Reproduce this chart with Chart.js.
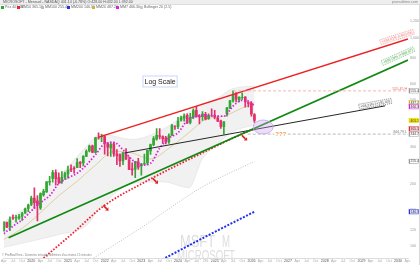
<!DOCTYPE html>
<html>
<head>
<meta charset="utf-8">
<script src="https://cdn.jsdelivr.net/npm/chart.js@4.4.1/dist/chart.umd.min.js"></script>
<style>
  html, body { margin: 0; padding: 0; background: #fff; }
  #wrap { position: relative; width: 420px; height: 265px; overflow: hidden; font-family: "Liberation Sans", Arial, sans-serif; }
  #c { position: absolute; left: 0; top: 0; }
  .bar { position: absolute; left: 0; top: 0; width: 420px; height: 4px; background: #eeeeee; border-bottom: 1px solid #dddddd; }
  .t { position: absolute; white-space: nowrap; font-size: 3.6px; line-height: 4px; color: #666; }
  .sq { display: inline-block; width: 3px; height: 3px; margin-right: 1px; vertical-align: -0.5px; }
  .edge { position: absolute; left: 419px; top: 5px; width: 1px; height: 260px; background: #d8d8d8; }
</style>
</head>
<body>
<div id="wrap">
  <canvas id="c" width="420" height="265"></canvas>
  <div class="bar"></div>
  <div class="t" style="left:3px;top:0px;color:#555">MICROSOFT - Mensuel - NASDAQ 401.14 (-6.78%) O:428.00 H:432.00 L:392.00</div>
  <div class="t" style="left:392px;top:0px;color:#888">prorealtime.com</div>
  <div class="t" style="left:1px;top:5px"><span class="sq" style="background:#34a634"></span>Prix 401.14</div>
  <div class="t" style="left:17px;top:5px"><span class="sq" style="background:#ee2233"></span>MM50 365.10</div>
  <div class="t" style="left:41px;top:5px"><span class="sq" style="background:#bbbbbb"></span>MM100 255.40</div>
  <div class="t" style="left:67px;top:5px"><span class="sq" style="background:#2233ee"></span>MM200 146.50</div>
  <div class="t" style="left:92px;top:5px"><span class="sq" style="background:#c8b440"></span>MM20 487.20</div>
  <div class="t" style="left:116px;top:5px"><span class="sq" style="background:#dd22dd"></span>MM7 466.30</div>
  <div class="t" style="left:140px;top:5px"><span class="sq" style="background:#cccccc"></span>Bollinger 20 (2.5)</div>
  <div class="t" style="left:2px;top:253px;font-size:3px;color:#888">© ProRealTime - Données intraday différées d'au moins 15 minutes</div>
  <div class="edge"></div>
</div>
<script>
// monthly candles, first bar = April 2019
const firstMonth = 2019.25;
const opens = [
  119, 130.5, 123.9, 136.6, 137, 136.6, 139.7, 144.3, 151.8,
  158.8, 170.4, 165.3, 153, 176.3, 182.5, 203.1, 211.5, 225.5, 213.5, 204.3, 214.5,
  222.5, 235.1, 235.9, 238.5, 253.4, 251.2, 269.6, 286.4, 302.9, 282.1, 331.4, 335.1,
  335.4, 310.4, 296.4, 309.4, 277.7, 275.2, 256.4, 277.8, 258.9, 235.4, 234.6, 253.9,
  243.1, 248, 250.8, 286.5, 307, 325.9, 339.2, 335.2, 331.3, 316.3, 339.8, 376.8,
  373.9, 401.8, 411.3, 424, 392.6, 415.5, 448.7, 420.8, 417.9, 428.5, 409, 421.6,
  425.5, 411.6, 398.8, 374.7, 431.1, 457.1, 496.5, 535, 504, 514.8, 519, 488,
  484, 428
];
const highs = [
  131.4, 130.7, 138.4, 141.7, 140.9, 142.4, 145.7, 152.5, 159.6,
  174.1, 190.7, 175, 180.4, 187.5, 204.4, 216.4, 231.2, 232.9, 225.2, 228.1, 227.2,
  242.6, 246.1, 241.1, 263.2, 254.4, 271.7, 290.2, 305.8, 305.3, 332, 349.7, 344.3,
  338, 315.1, 316, 315.1, 290.9, 277.7, 282, 294.2, 267.5, 251, 255.3, 263.9,
  249.8, 276.8, 289.3, 308.9, 335.9, 366.8, 366.8, 338.5, 336.2, 346.2, 384.3, 378.2,
  415.3, 420.8, 430.8, 430.8, 433.6, 456.2, 468.4, 427.5, 441.9, 438.5, 431.4, 456.2,
  448.4, 420.3, 402.2, 396, 463, 500.8, 555.5, 545, 520, 542, 521, 494,
  491, 432
];
const lows = [
  118.1, 123, 119, 134.7, 130.8, 134.5, 133.2, 144, 146.7,
  156.5, 152, 132.5, 150.4, 173.8, 181.4, 196.5, 203.1, 196.3, 199.6, 200.1, 209.1,
  211.9, 227.9, 224.3, 238.1, 238.1, 243, 269.6, 283.7, 281.3, 280.3, 326.4, 317.3,
  276.1, 271.5, 270, 270, 246.4, 241.5, 245.9, 260.7, 232.7, 219.1, 213.4, 233.9,
  219.4, 245.5, 245.6, 275.4, 303.4, 322.6, 327, 311.6, 309.5, 311.2, 339.7, 362.9,
  366.5, 397.2, 397.2, 388, 385.6, 408.9, 415.4, 385.6, 401.1, 403.6, 405.6, 420.7,
  408.1, 396.5, 367.2, 344.8, 420.8, 456.9, 490, 492, 492, 506, 464, 464.9,
  420, 392
];
const closes = [
  130.6, 123.7, 134, 136.3, 137.9, 139, 143.4, 151.4, 157.7,
  170.2, 162, 157.7, 179.2, 183.3, 203.5, 205, 225.5, 210.3, 202.5, 214.1, 222.4,
  232, 232.4, 235.8, 252.2, 249.7, 270.9, 284.9, 301.9, 281.9, 331.6, 330.6, 336.3,
  311, 298.8, 308.3, 277.5, 271.9, 256.8, 280.7, 261.5, 232.9, 232.1, 255.1, 239.8,
  247.8, 249.4, 288.3, 307.3, 328.4, 340.5, 335.9, 327.8, 315.8, 338.1, 378.9, 376,
  397.6, 413.6, 420.7, 389.3, 415.1, 447, 418.4, 417.1, 430.3, 406.4, 423.5, 421.5,
  415.1, 397, 375.4, 395.3, 460.4, 497.4, 533.5, 506.7, 518, 517.8, 492, 483.6,
  430.3, 401.1
];

// moving averages (year, price)
const maFastX = [2019.25, 2019.5, 2019.75, 2020, 2020.25, 2020.5, 2020.75, 2021, 2021.25, 2021.5, 2021.75, 2022, 2022.25, 2022.5, 2022.75, 2023, 2023.25, 2023.5, 2023.75, 2024, 2024.25, 2024.5, 2024.75, 2025, 2025.25, 2025.5, 2025.75, 2026, 2026.08];
const maFastY = [115, 125, 134, 148, 162, 175, 200, 213, 224, 245, 275, 310, 315, 290, 260, 245, 250, 295, 330, 350, 400, 420, 425, 420, 420, 470, 500, 490, 466];
const maMidX = [2019.25, 2019.75, 2020.25, 2020.75, 2021.25, 2021.75, 2022.25, 2022.75, 2023.25, 2023.75, 2024.25, 2024.75, 2025.25, 2025.75, 2026.08];
const maMidY = [108, 122, 145, 175, 205, 245, 285, 280, 262, 295, 345, 405, 420, 460, 487];
const ma50X = [2020.2, 2021.14, 2021.95, 2023.11, 2024.73, 2026, 2026.08];
const ma50Y = [84, 116, 155, 204, 284, 361, 365];
const ma100X = [2021.7, 2023.03, 2024.65, 2026.08];
const ma100Y = [88, 124, 192, 255];
const ma200X = [2023.57, 2024.78, 2026.08];
const ma200Y = [86.5, 112, 146.5];

// band around the candles
const bandX = [2019.25, 2020, 2020.75, 2021.5, 2021.9, 2022.75, 2023.6, 2024.3, 2024.65, 2025.05, 2025.5, 2026.08];
const bandUpper = [131, 160, 215, 300, 345, 325, 365, 440, 480, 510, 570, 585];
const bandLower = [99, 106, 114, 126, 155, 200, 204, 191, 260, 307, 355, 382];

// trendlines
const redLineX = [2021.84, 2030.27];
const redLineY = [334, 984];
const greenLineX = [2019.38, 2030.27];
const greenLineY = [110, 780];
const blackLineX = [2022.54, 2029.65];
const blackLineY = [280, 471];
const trendLabels = ['+194.61% (+650.03)', '+609.09% (+669.97)', '+68.21% (+191.02)'];

// levels and notes
const highLevel = 555.45;
const highFrom = 2025.5;
const lowLevel = 344.79;
const lowFrom = 2025.9;
const arrowX = [2022.03, 2023.38, 2025.81];
const arrowY = [153, 206, 331];
const noteX = 2023.51, noteY = 616, noteText = 'Log Scale';
const circleX = 2026.32, circleY = 373;
const questionX = 2026.8, questionText = '???';

// right axis value boxes
const markValues = [555.45, 487.2, 466.3, 401.14, 365.1, 344.79, 255.4, 146.5];
const markColors = ['#999999', '#c8b440', '#dd22dd', '#e8d800', '#ee2233', '#999999', '#999999', '#2233ee'];
const markFills = ['#ffffff', '#fbf7dc', '#fbe0fb', '#f0e000', '#fbd0d8', '#ffffff', '#ffffff', '#dde0ff'];

const xMin = 2019.24, xMax = 2030.27;
const yMin = 88, yMax = 1325;
const yTicks = [100, 120, 150, 200, 250, 300, 400, 500, 600, 800, 1000, 1200];
const quarterNames = ['', 'Apr', 'Jul', 'Oct'];

const upColor = '#34a634';
const downColor = '#e3306a';

const candleX = opens.map((o, i) => firstMonth + i / 12);
const candleColors = opens.map((o, i) => (closes[i] >= o ? upColor : downColor));
const wickData = candleX.map((x, i) => ({ x: x, y: [lows[i], highs[i]] }));
const bodyData = candleX.map((x, i) => {
  let a = opens[i], b = closes[i];
  if (Math.abs(a - b) < 0.5) b = a + 0.8;
  return { x: x, y: [Math.min(a, b), Math.max(a, b)] };
});

function pts(xs, ys) {
  return xs.map((x, i) => ({ x: x, y: ys[i] }));
}

function lineSet(xs, ys, color, width, dash, order, smooth) {
  return {
    type: 'line',
    data: pts(xs, ys),
    borderColor: color,
    borderWidth: width,
    borderDash: dash,
    pointRadius: 0,
    fill: false,
    order: order,
    cubicInterpolationMode: smooth ? 'monotone' : 'default',
  };
}

function fitText(ctx, text, x, y, w, size) {
  ctx.font = size + 'px "Liberation Sans"';
  const m = ctx.measureText(text).width;
  ctx.save();
  ctx.translate(x, y);
  ctx.scale(w / m, 1);
  ctx.fillText(text, 0, 0);
  ctx.restore();
}

function slantLabel(ctx, x, y, angle, text, color, bg) {
  ctx.save();
  ctx.translate(x, y);
  ctx.rotate(angle);
  ctx.font = '3.5px "Liberation Sans"';
  const w = ctx.measureText(text).width + 3;
  ctx.fillStyle = bg;
  ctx.fillRect(-w / 2, -2.5, w, 5);
  ctx.setLineDash([1, 1]);
  ctx.strokeStyle = color;
  ctx.lineWidth = 0.6;
  ctx.strokeRect(-w / 2, -2.5, w, 5);
  ctx.fillStyle = color;
  ctx.textAlign = 'center';
  ctx.textBaseline = 'middle';
  ctx.fillText(text, 0, 0.2);
  ctx.restore();
}

const overlay = {
  id: 'overlay',
  beforeDatasetsDraw(chart) {
    const ctx = chart.ctx;
    ctx.save();
    ctx.fillStyle = '#dedede';
    fitText(ctx, 'MSFT', 180, 247, 35, 16);
    fitText(ctx, 'M', 222, 247, 8, 16);
    fitText(ctx, 'MICROSOFT', 177, 260, 58, 14);
    ctx.restore();
  },
  afterDatasetsDraw(chart) {
    const ctx = chart.ctx;
    const a = chart.chartArea;
    const xs = chart.scales.x, ys = chart.scales.y;
    ctx.save();

    // high / low levels
    let yh = ys.getPixelForValue(highLevel);
    ctx.setLineDash([3, 2]);
    ctx.strokeStyle = '#f4a4a4';
    ctx.lineWidth = 0.8;
    ctx.beginPath();
    ctx.moveTo(xs.getPixelForValue(highFrom), yh);
    ctx.lineTo(a.right, yh);
    ctx.stroke();
    let yl = ys.getPixelForValue(lowLevel);
    ctx.strokeStyle = '#a8a8a8';
    ctx.beginPath();
    ctx.moveTo(xs.getPixelForValue(lowFrom), yl);
    ctx.lineTo(a.right, yl);
    ctx.stroke();
    ctx.setLineDash([]);
    ctx.font = '3.6px "Liberation Sans"';
    ctx.textAlign = 'right';
    ctx.textBaseline = 'bottom';
    ctx.fillStyle = '#e66';
    ctx.fillText(highLevel.toFixed(2) + ' H', a.right - 1, yh - 0.5);
    ctx.fillStyle = '#777';
    ctx.fillText(lowLevel.toFixed(2) + ' L', a.right - 1, yl - 0.5);

    // ??? on the low level
    ctx.font = 'bold 6px "Liberation Sans"';
    ctx.textAlign = 'center';
    ctx.textBaseline = 'middle';
    const qx = xs.getPixelForValue(questionX);
    const qw = ctx.measureText(questionText).width + 2;
    ctx.fillStyle = '#fff';
    ctx.fillRect(qx - qw / 2, yl - 3, qw, 6);
    ctx.fillStyle = '#f5a050';
    ctx.fillText(questionText, qx, yl + 0.5);

    // circle
    const cx = xs.getPixelForValue(circleX), cy = ys.getPixelForValue(circleY);
    ctx.beginPath();
    ctx.ellipse(cx, cy, 10, 7, 0, 0, Math.PI * 2);
    ctx.fillStyle = 'rgba(200, 160, 235, 0.35)';
    ctx.fill();
    ctx.strokeStyle = '#c9a2e6';
    ctx.lineWidth = 0.8;
    ctx.stroke();

    // arrows
    ctx.strokeStyle = '#dd2222';
    ctx.fillStyle = '#dd2222';
    ctx.lineWidth = 1.6;
    arrowX.forEach((v, i) => {
      const px = xs.getPixelForValue(v), py = ys.getPixelForValue(arrowY[i]);
      ctx.beginPath();
      ctx.moveTo(px - 2.5, py - 2.5);
      ctx.lineTo(px + 1, py + 1);
      ctx.stroke();
      ctx.beginPath();
      ctx.moveTo(px + 2.8, py + 2.8);
      ctx.lineTo(px - 0.6, py + 2.6);
      ctx.lineTo(px + 2.6, py - 0.6);
      ctx.closePath();
      ctx.fill();
    });

    // note box
    const nx = xs.getPixelForValue(noteX), ny = ys.getPixelForValue(noteY);
    ctx.font = '7px "Liberation Sans"';
    const nw = ctx.measureText(noteText).width + 3;
    ctx.fillStyle = '#fff';
    ctx.fillRect(nx - nw / 2, ny - 5.5, nw, 11);
    ctx.strokeStyle = '#b8d0f0';
    ctx.lineWidth = 0.8;
    ctx.strokeRect(nx - nw / 2, ny - 5.5, nw, 11);
    ctx.fillStyle = '#222';
    ctx.textAlign = 'center';
    ctx.textBaseline = 'middle';
    ctx.fillText(noteText, nx, ny + 0.5);

    // trendline labels
    const lines = [
      [redLineX, redLineY, '#f07a7a', '#fff5f5', -11, -2],
      [greenLineX, greenLineY, '#5aaa5a', '#f3fbf3', -10, -4],
      [blackLineX, blackLineY, '#555555', '#f6f6f6', -10, -2],
    ];
    lines.forEach((l, i) => {
      const x0 = xs.getPixelForValue(l[0][0]), y0 = ys.getPixelForValue(l[1][0]);
      const x1 = xs.getPixelForValue(l[0][1]), y1 = ys.getPixelForValue(l[1][1]);
      const ang = Math.atan2(y1 - y0, x1 - x0);
      slantLabel(ctx, x1 + l[4], y1 + l[5], ang, trendLabels[i], l[2], l[3]);
    });

    // value boxes on the right axis
    ctx.font = '3.4px "Liberation Sans"';
    ctx.textAlign = 'left';
    ctx.textBaseline = 'middle';
    markValues.forEach((v, i) => {
      const py = ys.getPixelForValue(v);
      ctx.fillStyle = markFills[i];
      ctx.fillRect(a.right + 1, py - 2.2, 9.5, 4.4);
      ctx.strokeStyle = markColors[i];
      ctx.lineWidth = 0.5;
      ctx.strokeRect(a.right + 1, py - 2.2, 9.5, 4.4);
      ctx.fillStyle = markColors[i];
      ctx.fillRect(a.right + 1, py - 2.2, 1, 4.4);
      ctx.fillStyle = '#444';
      ctx.fillText(v.toFixed(2), a.right + 2.5, py + 0.2);
    });
    ctx.restore();
  },
};

const ctx = document.getElementById('c').getContext('2d');
const chart = new Chart(ctx, {
  type: 'bar',
  data: {
    datasets: [
      {
        type: 'line',
        data: pts(bandX, bandUpper),
        borderColor: '#e2e2e2',
        borderWidth: 0.7,
        backgroundColor: 'rgba(228, 228, 228, 0.5)',
        pointRadius: 0,
        fill: '+1',
        order: 20,
        cubicInterpolationMode: 'monotone',
      },
      {
        type: 'line',
        data: pts(bandX, bandLower),
        borderColor: '#e2e2e2',
        borderWidth: 0.7,
        pointRadius: 0,
        fill: false,
        order: 19,
        cubicInterpolationMode: 'monotone',
      },
      lineSet(ma100X, ma100Y, '#bdbdbd', 1, [1, 1.5], 12, true),
      lineSet(ma200X, ma200Y, '#2233ee', 2, [2, 1.5], 12, true),
      lineSet(maMidX, maMidY, '#d8c890', 0.8, [], 11, true),
      {
        data: wickData,
        backgroundColor: candleColors,
        barThickness: 1,
        grouped: false,
        order: 9,
      },
      {
        data: bodyData,
        backgroundColor: candleColors,
        barThickness: 2,
        grouped: false,
        order: 8,
      },
      lineSet(maFastX, maFastY, '#dd22dd', 1.8, [1.5, 1.8], 6, true),
      lineSet(ma50X, ma50Y, '#ee2233', 1.8, [1.6, 1.6], 5, true),
      lineSet(blackLineX, blackLineY, '#262626', 1, [], 3, false),
      lineSet(greenLineX, greenLineY, '#118811', 1.6, [], 2, false),
      lineSet(redLineX, redLineY, '#ee2020', 1.3, [], 1, false),
    ],
  },
  options: {
    responsive: false,
    animation: false,
    devicePixelRatio: 1,
    layout: { padding: { top: 12, left: 0, right: 1, bottom: 0 } },
    plugins: { legend: { display: false }, tooltip: { enabled: false } },
    scales: {
      x: {
        type: 'linear',
        min: xMin,
        max: xMax,
        offset: false,
        grid: { display: false, drawTicks: false },
        border: { display: true, color: '#dddddd' },
        ticks: {
          autoSkip: false,
          maxRotation: 0,
          padding: 1,
          font: { size: 3.6, family: 'Liberation Sans' },
          color: (c) => (c.tick && Math.abs(c.tick.value - Math.round(c.tick.value)) < 1e-6 ? '#555' : '#aaa'),
          callback: (v) => {
            const y = Math.floor(v + 1e-6);
            const q = Math.round((v - y) * 4);
            return q === 0 ? String(y) : quarterNames[q];
          },
        },
        afterBuildTicks: (s) => {
          const t = [];
          for (let v = 2019.25; v <= xMax; v += 0.25) t.push({ value: Math.round(v * 100) / 100 });
          s.ticks = t;
        },
        afterFit: (s) => { s.height = 7; },
      },
      y: {
        type: 'logarithmic',
        position: 'right',
        min: yMin,
        max: yMax,
        grid: { display: false, drawTicks: false },
        border: { display: false },
        ticks: {
          padding: 2,
          font: { size: 3.6, family: 'Liberation Sans' },
          color: '#999',
          callback: (v) => Number(v).toLocaleString('en-US'),
        },
        afterBuildTicks: (s) => { s.ticks = yTicks.map((v) => ({ value: v })); },
        afterFit: (s) => { s.width = 11; },
      },
    },
  },
  plugins: [overlay],
});
</script>
</body>
</html>
